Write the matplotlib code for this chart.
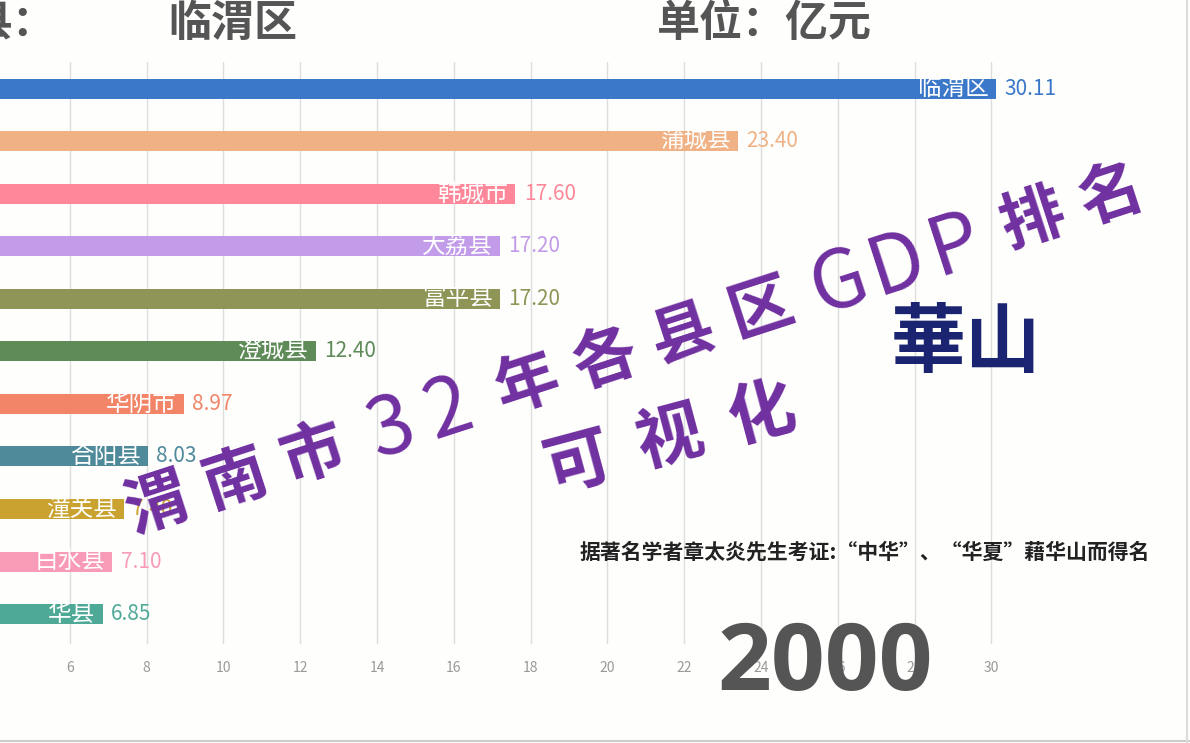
import math
import matplotlib.pyplot as plt
from matplotlib.lines import Line2D

plt.rcParams['font.family'] = ['Noto Sans CJK SC', 'DejaVu Sans']

W, H = 1190, 743

# data (year 2000, 亿元)
names = ['临渭区', '蒲城县', '韩城市', '大荔县', '富平县', '澄城县',
         '华阴市', '合阳县', '潼关县', '白水县', '华县']
gdp = [30.11, 23.40, 17.60, 17.20, 17.20, 12.40, 8.97, 8.03, 7.40, 7.10, 6.85]
colors = ['#3b78c9', '#f0b184', '#fe8899', '#c39ce9', '#8f9556', '#5f8b59',
          '#f28468', '#4f8a9b', '#c9a22f', '#f89bb6', '#4fa997']
xticks = list(range(6, 32, 2))
year = '2000'

title = '渭南市32年各县区GDP排名'
subtitle = '可视化'
note = '据著名学者章太炎先生考证:“中华”、“华夏”藉华山而得名'


def px(x, y):
    return x / W, 1 - y / H


fig = plt.figure(figsize=(W / 100, H / 100), dpi=100)
fig.patch.set_facecolor('#fefefd')
ax = fig.add_axes([0, (H - 644) / H, 1, (644 - 62) / H])
ax.set_facecolor('#fefefd')

ypos = list(range(len(names)))
ax.barh(ypos, gdp, height=0.38, color=colors, zorder=2)

for i, (n, v, c) in enumerate(zip(names, gdp, colors)):
    ax.text(v - 0.18, i, n, ha='right', va='center', color='white',
            fontsize=17, zorder=3)
    ax.text(v + 0.22, i, f'{v:.2f}', ha='left', va='center', color=c,
            fontsize=15, zorder=3)

ax.set_xlim(4.18, 35.17)
ax.set_ylim(10.57, -0.51)
ax.set_xticks(xticks)
ax.set_xticklabels([str(t) for t in xticks])
ax.set_yticks([])
ax.tick_params(axis='x', length=0, pad=12, labelsize=10, labelcolor='#999999')
ax.grid(axis='x', color='#dddddd', lw=1, zorder=0)
ax.set_axisbelow(True)
for s in ax.spines.values():
    s.set_visible(False)

# header
hdr = dict(va='center', fontsize=31, weight='bold', color='#555555')
fig.text(*px(-30, 23), '县：', ha='left', **hdr)
fig.text(*px(168, 23), '临渭区', ha='left', **hdr)
fig.text(*px(657, 23), '单位：亿元', ha='left', **hdr)

# slanted purple title, laid out char by char with loose spacing
slope = 0.3247
ang = math.degrees(math.atan(slope))
x = 157
prev = None
for ch in title:
    wide = ord(ch) > 255
    hw = 39 if wide else 29
    if prev is not None:
        x += prev + hw + (10 if (prev == 39) != wide else 0)
    y = 505 - slope * (x - 157)
    fig.text(*px(x, y), ch, ha='center', va='center', rotation=ang,
             rotation_mode='anchor', fontsize=46 if wide else 58,
             weight='bold' if wide else 'normal', color='#7030a0', zorder=10)
    prev = hw

for k, ch in enumerate(subtitle):
    x = 578 + 92 * k
    y = 464 - 0.27 * (x - 578)
    fig.text(*px(x, y), ch, ha='center', va='center', rotation=15,
             rotation_mode='anchor', fontsize=48, weight='bold',
             color='#7030a0', zorder=10)

fig.text(*px(966, 344), '華山', ha='center', va='center', fontsize=54,
         weight='heavy', color='#1b2470', zorder=10)
fig.text(*px(580, 552), note, ha='left', va='center', fontsize=15,
         weight='bold', color='#222222', zorder=10)

# year
fig.text(*px(825, 690), year, ha='center', va='baseline', fontsize=68,
         weight='bold', color='#555555', family=['Open Sans', 'DejaVu Sans'],
         zorder=10)

# frame edges
fig.add_artist(Line2D([0, 1], [0.003, 0.003], color='#cccccc', lw=1.5,
                      transform=fig.transFigure))
fig.add_artist(Line2D([1187 / W, 1187 / W], [0, 1], color='#dddddd', lw=1.5,
                      transform=fig.transFigure))

fig.savefig('out.png', dpi=100, facecolor=fig.get_facecolor())
